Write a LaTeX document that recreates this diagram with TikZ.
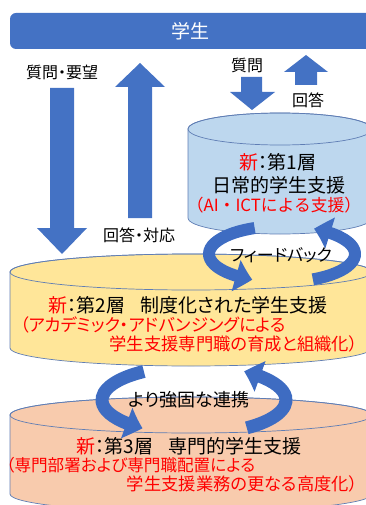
\documentclass[tikz,border=0pt]{standalone}
\usepackage{fontspec}
\setmainfont{Noto Sans CJK JP}[RawFeature=+palt]
\newfontfamily\nopaltfont{Noto Sans CJK JP}
\usetikzlibrary{arrows.meta,bending}
\definecolor{barblue}{RGB}{68,114,196}
\definecolor{ringblue}{RGB}{62,108,194}
\definecolor{cyla}{RGB}{189,215,238}
\definecolor{cylb}{RGB}{255,230,153}
\definecolor{cylc}{RGB}{248,203,173}
\definecolor{edgeblue}{RGB}{95,125,180}
\definecolor{txtred}{RGB}{255,0,0}
\begin{document}
\begin{tikzpicture}[x=1pt,y=-1pt,
  lbl/.style={font=\fontsize{16}{19}\selectfont, inner sep=0pt},
  bigtxt/.style={font=\fontsize{19}{22}\selectfont, inner sep=0pt},
  redtxt/.style={font=\fontsize{17.3}{20}\selectfont, text=txtred, inner sep=0pt},
  blockarrow/.style={fill=barblue},
  cylbody/.style={draw=edgeblue, line width=0.7pt},
  ringarrow/.style={draw=ringblue, line width=12pt, -{Triangle[bend,width=31pt,length=17pt]}}]
\useasboundingbox (0,0) rectangle (365,505);
% top bar
\fill[barblue, rounded corners=6pt] (10,13) rectangle (380,49);
\node[font=\fontsize{19}{22}\selectfont, text=white, inner sep=0pt] (student) at (190,31) {学生};

% cylinder 3
\filldraw[cylbody, fill=cylc] (10,415) -- (10,494) arc[start angle=180,end angle=0,x radius=181,y radius=18] -- (372,415) arc[start angle=0,end angle=-180,x radius=181,y radius=18] -- cycle;
\draw[cylbody] (191,415) ellipse[x radius=181,y radius=18];
% cylinder 2
\filldraw[cylbody, fill=cylb] (10,272) -- (10,348) arc[start angle=180,end angle=0,x radius=181,y radius=18] -- (372,272) arc[start angle=0,end angle=-180,x radius=181,y radius=18] -- cycle;
\draw[cylbody] (191,272) ellipse[x radius=181,y radius=18];
% cylinder 1
\filldraw[cylbody, fill=cyla] (188,129) -- (188,218) arc[start angle=180,end angle=0,x radius=92,y radius=16] -- (372,129) arc[start angle=0,end angle=-180,x radius=92,y radius=16] -- cycle;
\draw[cylbody] (280,129) ellipse[x radius=92,y radius=16];

% big block arrows
\fill[blockarrow] (50,88) -- (74,88) -- (74,228) -- (87,228) -- (62,254) -- (37,228) -- (50,228) -- cycle;
\fill[blockarrow] (128,218) -- (152,218) -- (152,87) -- (165,87) -- (140,63) -- (115,87) -- (128,87) -- cycle;
% small block arrows
\fill[blockarrow] (241,77) -- (262,77) -- (262,92) -- (275,92) -- (252,110) -- (230,92) -- (241,92) -- cycle;
\fill[blockarrow] (295,85) -- (317,85) -- (317,72) -- (328,72) -- (306,55) -- (284,72) -- (295,72) -- cycle;

% labels
\node[lbl] (q1) at (62,72) {質問・要望};
\node[lbl] (a1) at (139,235) {回答・対応};
\node[lbl] (q2) at (247,65) {質問};
\node[lbl] (a2) at (308,100) {回答};

% layer texts
\node[bigtxt] (l1a) at (278,162) {\textcolor{txtred}{新}：第1層};
\node[bigtxt] (l1b) at (279,185) {日常的学生支援};
\node[redtxt, font=\nopaltfont\fontsize{16.8}{20}\selectfont] (l1c) at (274,205) {（AI・ICTによる支援）};

\node[bigtxt] (l2a) at (188,305) {\textcolor{txtred}{新}：第2層\hspace{0.8em}制度化された学生支援};
\node[redtxt, anchor=west] (l2b) at (20,325) {（アカデミック・アドバンジングによる};
\node[redtxt, anchor=east] (l2c) at (358,344) {学生支援専門職の育成と組織化）};

\node[bigtxt] (l3a) at (189,446) {\textcolor{txtred}{新}：第3層\hspace{0.8em}専門的学生支援};
\node[redtxt, font=\fontsize{16.6}{20}\selectfont, anchor=west] (l3b) at (6,465) {（専門部署および専門職配置による};
\node[redtxt, anchor=east] (l3c) at (358,484) {学生支援業務の更なる高度化）};

% feedback ring
\draw[ringarrow] (282,254) ++(248:73 and 28) arc[start angle=248,end angle=114,x radius=73,y radius=28];
\draw[ringarrow] (282,254) ++(65:73 and 28) arc[start angle=65,end angle=-64,x radius=73,y radius=28];
\node[font=\fontsize{17}{20}\selectfont, inner sep=0pt] (fb) at (281,255) {フィードバック};

% cooperation ring
\draw[ringarrow, line width=13pt] (194,400) ++(237:92 and 34) arc[start angle=237,end angle=124,x radius=92,y radius=34];
\draw[ringarrow, line width=13pt] (194,400) ++(55:92 and 34) arc[start angle=55,end angle=-57,x radius=92,y radius=34];
\node[font=\fontsize{18}{21}\selectfont, inner sep=0pt] (coop) at (189,400) {より強固な連携};
\end{tikzpicture}
\end{document}
